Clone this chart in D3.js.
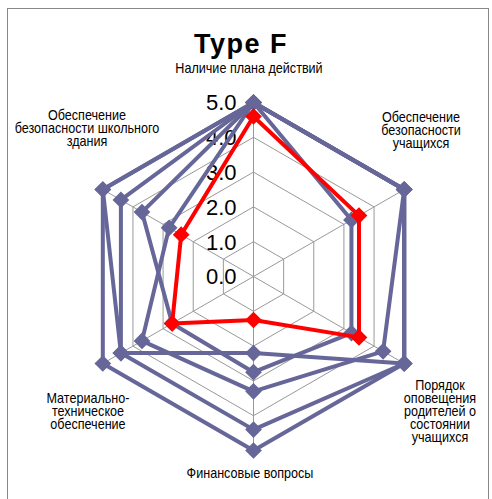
<!DOCTYPE html>
<html>
<head>
<meta charset="utf-8">
<script src="https://cdn.jsdelivr.net/npm/d3@7"></script>
<style>
  body { margin: 0; background: #fff; }
  text { font-family: "Liberation Sans", Arial, sans-serif; }
</style>
</head>
<body>
<div id="chart"></div>
<script>
var axes = [
  ["Наличие плана действий"],
  ["Обеспечение", "безопасности", "учащихся"],
  ["Порядок", "оповещения", "родителей о", "состоянии", "учащихся"],
  ["Финансовые вопросы"],
  ["Материально-", "техническое", "обеспечение"],
  ["Обеспечение", "безопасности школьного", "здания"]
];
var ticks = [0, 1, 2, 3, 4, 5];

// blue series (other schools) and the red one (type F)
var school1 = [5, 5, 5, 5, 5, 5];
var school2 = [5, 5, 5, 4.4, 4.4, 4.4];
var school3 = [5, 5, 5, 2.2, 4.4, 5];
var school4 = [5, 3.25, 3.25, 2.75, 2.7, 3.7];
var school5 = [5, 5, 4.3, 3.3, 3.7, 2.8];
var typeF = [4.6, 3.5, 3.5, 1.25, 2.7, 2.4];

var blueSeries = [school1, school2, school3, school4, school5];

var width = 492, height = 499;
var cx = 253.5, cy = 276.5;

var svg = d3.select("#chart")
    .append("svg")
    .attr("width", width)
    .attr("height", height);

// chart frame
svg.append("rect")
    .attr("x", 7.5).attr("y", 8.5)
    .attr("width", 481).attr("height", 520)
    .attr("fill", "none")
    .attr("stroke", "#888")
    .attr("stroke-width", 1);

var r = d3.scaleLinear().domain([0, 5]).range([0, 174]);
var angle = d3.scaleLinear().domain([0, axes.length]).range([0, 2 * Math.PI]);

function pt(i, v) {
    var a = angle(i);
    return [cx + r(v) * Math.sin(a), cy - r(v) * Math.cos(a)];
}

var g = svg.append("g");

// hexagon grid
ticks.slice(1).forEach(function(t) {
    g.append("polygon")
        .attr("points", axes.map(function(d, i) { return pt(i, t).join(","); }).join(" "))
        .attr("fill", "none")
        .attr("stroke", "#999")
        .attr("stroke-width", 1);
});
axes.forEach(function(d, i) {
    var p = pt(i, 5);
    g.append("line")
        .attr("x1", cx).attr("y1", cy)
        .attr("x2", p[0]).attr("y2", p[1])
        .attr("stroke", "#999")
        .attr("stroke-width", 1);
});

// tick labels
g.selectAll(".tick")
    .data(ticks)
    .enter()
    .append("text")
    .attr("x", cx - 17)
    .attr("y", function(d) { return cy - r(d); })
    .attr("dy", "0.36em")
    .attr("text-anchor", "end")
    .attr("font-size", 22)
    .text(function(d) { return d.toFixed(1); });

var line = d3.line().curve(d3.curveLinearClosed);

function drawSeries(vals, color) {
    var pts = vals.map(function(v, i) { return pt(i, v); });
    g.append("path")
        .attr("d", line(pts))
        .attr("fill", "none")
        .attr("stroke", color)
        .attr("stroke-width", 4)
        .attr("stroke-linejoin", "round");
    g.selectAll(null)
        .data(pts)
        .enter()
        .append("path")
        .attr("d", d3.symbol().type(d3.symbolSquare).size(140))
        .attr("transform", function(d) { return "translate(" + d[0] + "," + d[1] + ") rotate(45)"; })
        .attr("fill", color);
}

blueSeries.forEach(function(s) { drawSeries(s, "#666699"); });
drawSeries(typeF, "#ff0000");

// axis labels, slightly condensed like the original
var labelPos = [[249, 73], [421, 122], [440, 390], [250, 478], [88, 403], [87, 120]];
axes.forEach(function(lines, i) {
    var t = svg.append("g")
        .attr("transform", "translate(" + labelPos[i][0] + "," + labelPos[i][1] + ") scale(0.9,1)")
        .append("text")
        .attr("text-anchor", "middle")
        .attr("font-size", 14)
        .attr("fill", "#000");
    lines.forEach(function(s, j) {
        t.append("tspan")
            .attr("x", 0)
            .attr("y", j * 12.9)
            .text(s);
    });
});

// title
svg.append("text")
    .attr("x", 241)
    .attr("y", 53)
    .attr("text-anchor", "middle")
    .attr("font-size", 27)
    .attr("font-weight", "bold")
    .attr("letter-spacing", 1.5)
    .text("Type F");
</script>
</body>
</html>
